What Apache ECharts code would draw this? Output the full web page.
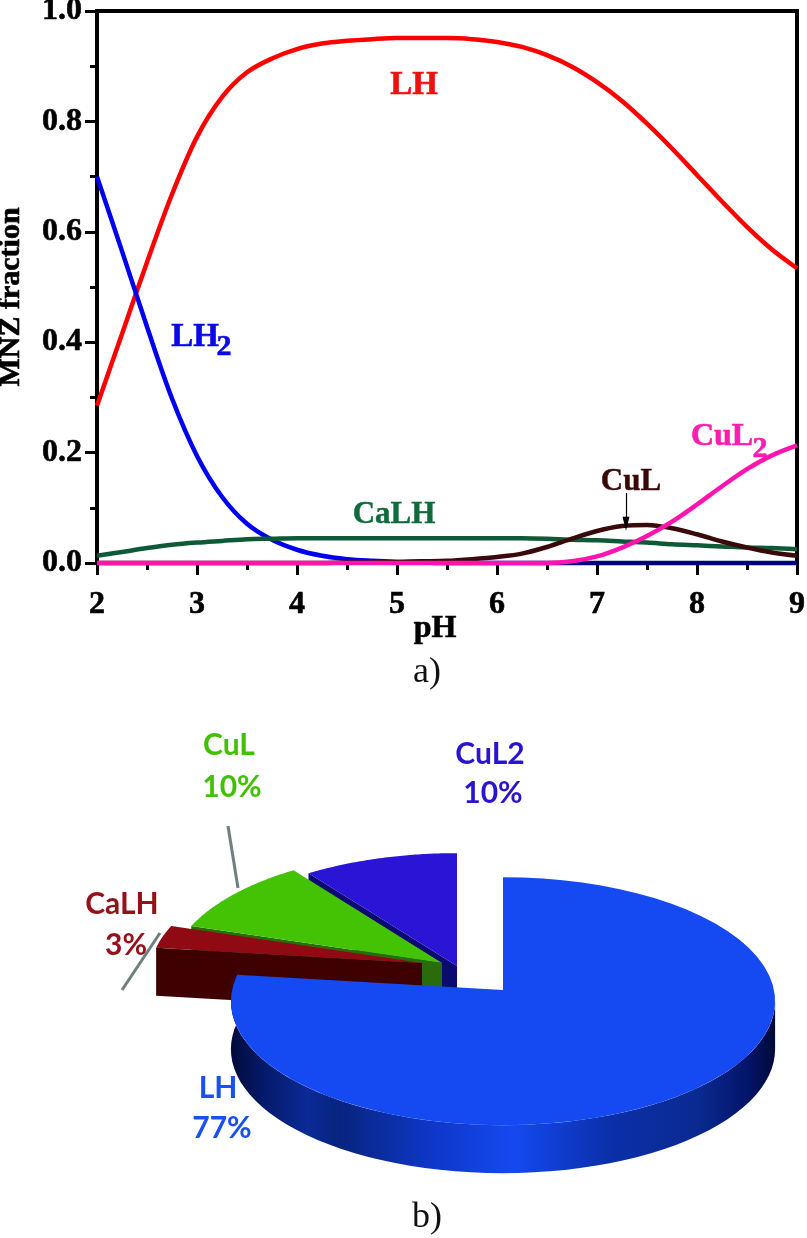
<!DOCTYPE html>
<html>
<head>
<meta charset="utf-8">
<title>MNZ fraction</title>
<style>html,body{margin:0;padding:0;background:#fff}#main{width:807px;height:1238px}</style>
<script src="https://cdn.jsdelivr.net/npm/echarts@6/dist/echarts.min.js"></script>
</head>
<body>
<div id="main"></div>
<script>
var phValues = [2,2.25,2.5,2.75,3,3.25,3.5,3.75,4,4.25,4.5,4.75,5,5.25,5.5,5.75,6,6.25,6.5,6.75,7,7.25,7.5,7.75,8,8.25,8.5,8.75,9];
var lhValues = [.285,.415,.545,.668,.772,.844,.889,.914,.931,.941,.946,.949,.951,.951,.951,.949,.944,.935,.920,.899,.871,.837,.796,.751,.703,.655,.609,.568,.534];
var lh2Values = [.70,.565,.428,.298,.194,.120,.071,.042,.024,.013,.007,.004,.002,.001,0,0,0,0,0,0,0,0,0,0,0,0,0,0,0];
var calhValues = [.013,.020,.027,.033,.037,.040,.043,.044,.045,.045,.045,.045,.045,.045,.045,.045,.045,.045,.044,.042,.041,.039,.037,.034,.032,.030,.028,.027,.025];
var culValues = [0,0,0,0,0,0,0,0,0,0,.001,.001,.002,.003,.004,.007,.011,.017,.029,.044,.058,.067,.069,.063,.052,.039,.028,.019,.013];
var cul2Values = [0,0,0,0,0,0,0,0,0,0,0,0,0,0,0,0,0,0,0,.003,.012,.028,.049,.075,.106,.139,.170,.195,.213];

// pie shares, clockwise from 12 o'clock
var pieNames = ['LH','CaLH','CuL','CuL2'];
var pieValues = [77,3,10,10];

var serif = '"Liberation Serif", serif';
var sans = 'Lato, "Open Sans", sans-serif';

var dom = document.getElementById('main');
var myChart = echarts.init(dom);

function zip(ys){
    return phValues.map(function(x, i){ return [x, ys[i]]; });
}

function curve(name, ys, color){
    return {
        name: name,
        type: 'line',
        data: zip(ys),
        smooth: 0.33,
        symbol: 'none',
        clip: false,
        lineStyle: {color: color, width: 4.5}
    };
}

// looks of each slice: apex position, top and side colours
var pieStyle = {
    LH:   {cx: 503, cy: 990, top: '#1549f2', side: '#0a2a90'},
    CaLH: {cx: 422, cy: 963, top: '#8f0a12', side: '#3f0002'},
    CuL:  {cx: 442, cy: 963, top: '#44c204', side: '#2a6b0c'},
    CuL2: {cx: 457, cy: 966, top: '#2a14d6', side: '#0a0a70'}
};
var RX = 271, RY = 123, PERSP = 0.09, DEPTH = 48;

function rimPoint(st, a){
    var s = 1 / (1 + PERSP * Math.cos(a));
    return [st.cx + RX * Math.sin(a) * s, st.cy - RY * Math.cos(a) * s];
}

function arc(st, a0, a1){
    var pts = [], n = 60;
    for (var i = 0; i <= n; i++) {
        pts.push(rimPoint(st, a0 + (a1 - a0) * i / n));
    }
    return pts;
}

function drop(pts){
    return pts.map(function(p){ return [p[0], p[1] + DEPTH]; });
}

var rimGradient = new echarts.graphic.LinearGradient(0, 0, 1, 0, [
    {offset: 0, color: '#010a3c'},
    {offset: 0.06, color: '#041a6a'},
    {offset: 0.14, color: '#0a2a96'},
    {offset: 0.2, color: '#08247e'},
    {offset: 0.36, color: '#0e36c4'},
    {offset: 0.52, color: '#1549f0'},
    {offset: 0.7, color: '#0b2fa8'},
    {offset: 0.86, color: '#0a2a90'},
    {offset: 0.95, color: '#03146a'},
    {offset: 1, color: '#000a38'}
]);

var pieTotal = pieValues.reduce(function(a, b){ return a + b; }, 0);
var pieSlices = [];
var acc = 0;
pieValues.forEach(function(v, i){
    pieSlices.push({name: pieNames[i], a0: acc / pieTotal * 2 * Math.PI, a1: (acc + v) / pieTotal * 2 * Math.PI});
    acc += v;
});
// far slices are painted first
var pieOrder = pieSlices.slice().reverse();

function renderSlice(params){
    var sl = pieOrder[params.dataIndex];
    var st = pieStyle[sl.name];
    var apex = [st.cx, st.cy];
    var kids = [];
    if (sl.name === 'LH') {
        // outer wall of the big slice, only the part facing us
        var wall = arc(st, Math.PI / 2 + 0.09, sl.a1);
        kids.push({type: 'polygon', shape: {points: wall.concat(drop(wall).reverse())}, style: {fill: rimGradient}});
    } else {
        // cut face on the near side of the slice
        var edge = [apex, rimPoint(st, sl.a0)];
        kids.push({type: 'polygon', shape: {points: edge.concat(drop(edge).reverse())}, style: {fill: st.side}});
    }
    var top = [apex].concat(arc(st, sl.a0, sl.a1));
    kids.push({type: 'polygon', shape: {points: top}, style: {fill: st.top}});
    return {type: 'group', children: kids};
}

function note(text, x, y, size, color, family, weight, bold){
    return {
        type: 'text',
        z: 20,
        style: {
            text: text, x: x, y: y,
            fontSize: size, fontFamily: family, fontWeight: weight,
            fill: color, stroke: bold ? color : null, lineWidth: bold || 0,
            align: 'center', verticalAlign: 'middle'
        }
    };
}

function leader(x1, y1, x2, y2){
    return {
        type: 'line',
        z: 15,
        shape: {x1: x1, y1: y1, x2: x2, y2: y2},
        style: {stroke: '#6f7f80', lineWidth: 3}
    };
}

// tail of LH2 sits on the black axis and reads as navy
var lh2Series = curve('LH2', lh2Values, new echarts.graphic.LinearGradient(0, 0, 1, 0, [
    {offset: 0, color: '#0000f0'},
    {offset: 0.6, color: '#0000f0'},
    {offset: 0.66, color: '#000080'},
    {offset: 1, color: '#000080'}
]));

var culSeries = curve('CuL', culValues, '#3a0a0a');
culSeries.markLine = {
    silent: true,
    symbol: ['none', 'triangle'],
    symbolSize: [7, 14],
    label: {show: false},
    lineStyle: {color: '#000', width: 1.2, type: 'solid'},
    data: [[{coord: [7.29, 0.127]}, {coord: [7.29, 0.071]}]]
};

var tickFont = {color: '#000', fontFamily: serif, fontWeight: 'bold', fontSize: 32, textBorderColor: '#000', textBorderWidth: 0.6};

option = {
    animation: false,
    backgroundColor: '#fff',
    grid: {
        left: 97, top: 11, width: 700, height: 552,
        outerBoundsMode: 'none',
        show: true, borderColor: '#000', borderWidth: 4
    },
    xAxis: {
        type: 'value',
        min: 2, max: 9, interval: 1,
        name: 'pH',
        nameLocation: 'middle',
        nameGap: 50,
        nameMoveOverlap: false,
        nameTextStyle: {color: '#000', fontFamily: serif, fontWeight: 'bold', fontSize: 32, textBorderColor: '#000', textBorderWidth: 0.6, padding: [0, 24, 0, 0]},
        splitLine: {show: false},
        axisLine: {lineStyle: {color: '#000', width: 4}},
        axisTick: {length: 12, lineStyle: {color: '#000', width: 3}},
        minorTick: {show: true, splitNumber: 2, length: 7, lineStyle: {color: '#000', width: 3}},
        axisLabel: Object.assign({margin: 26, showMinLabel: true, showMaxLabel: true, hideOverlap: false}, tickFont)
    },
    yAxis: {
        type: 'value',
        min: 0, max: 1, interval: 0.2,
        name: 'MNZ fraction',
        nameLocation: 'middle',
        nameRotate: 90,
        nameGap: 71,
        nameMoveOverlap: false,
        nameTextStyle: {color: '#000', fontFamily: serif, fontWeight: 'bold', fontSize: 30, textBorderColor: '#000', textBorderWidth: 0.6, padding: [0, 20, 0, 0]},
        splitLine: {show: false},
        axisLine: {lineStyle: {color: '#000', width: 4}},
        axisTick: {length: 12, lineStyle: {color: '#000', width: 3}},
        minorTick: {show: true, splitNumber: 2, length: 7, lineStyle: {color: '#000', width: 3}},
        axisLabel: Object.assign({
            margin: 15,
            formatter: function(v){ return v.toFixed(1); }
        }, tickFont)
    },
    series: [
        curve('LH', lhValues, '#ff0000'),
        lh2Series,
        curve('CaLH', calhValues, '#0f5a36'),
        culSeries,
        curve('CuL2', cul2Values, '#ff14b0'),
        {
            name: 'Share',
            type: 'custom',
            coordinateSystem: 'none',
            clip: false,
            silent: true,
            renderItem: renderSlice,
            data: pieOrder.map(function(s, i){ return [i]; })
        }
    ],
    graphic: [
        note('LH', 414, 85, 33, '#f01010', serif, 'bold', 0.6),
        note('LH', 195, 337, 33, '#0a0ae6', serif, 'bold', 0.6),
        note('2', 224, 347, 30, '#0a0ae6', serif, 'bold', 0.6),
        note('CaLH', 394, 515, 31, '#0f6a3c', serif, 'bold', 0.4),
        note('CuL', 631, 482, 31, '#3a0808', serif, 'bold', 0.4),
        note('CuL', 722, 437, 32, '#ff1cae', serif, 'bold', 0.6),
        note('2', 760, 449, 30, '#ff1cae', serif, 'bold', 0.6),
        note('a)', 427, 673, 36, '#111', serif, 'normal'),
        note('b)', 427, 1218, 36, '#111', serif, 'normal'),
        note('CuL', 229, 745, 30, '#44c004', sans, 'bold'),
        note('10%', 232, 787, 30, '#44c004', sans, 'bold'),
        note('CuL2', 490, 754, 30, '#2a14d0', sans, 'bold'),
        note('10%', 493, 793, 30, '#2a14d0', sans, 'bold'),
        note('CaLH', 122, 904, 30, '#96101a', sans, 'bold'),
        note('3%', 126, 945, 30, '#96101a', sans, 'bold'),
        note('LH', 218, 1088, 30, '#1a4ff0', sans, 'bold'),
        note('77%', 222, 1128, 30, '#1a4ff0', sans, 'bold'),
        leader(228, 826, 238, 888),
        leader(122, 990, 160, 933)
    ]
};

if (option && typeof option === 'object') {
    myChart.setOption(option, true);
}
</script>
</body>
</html>
